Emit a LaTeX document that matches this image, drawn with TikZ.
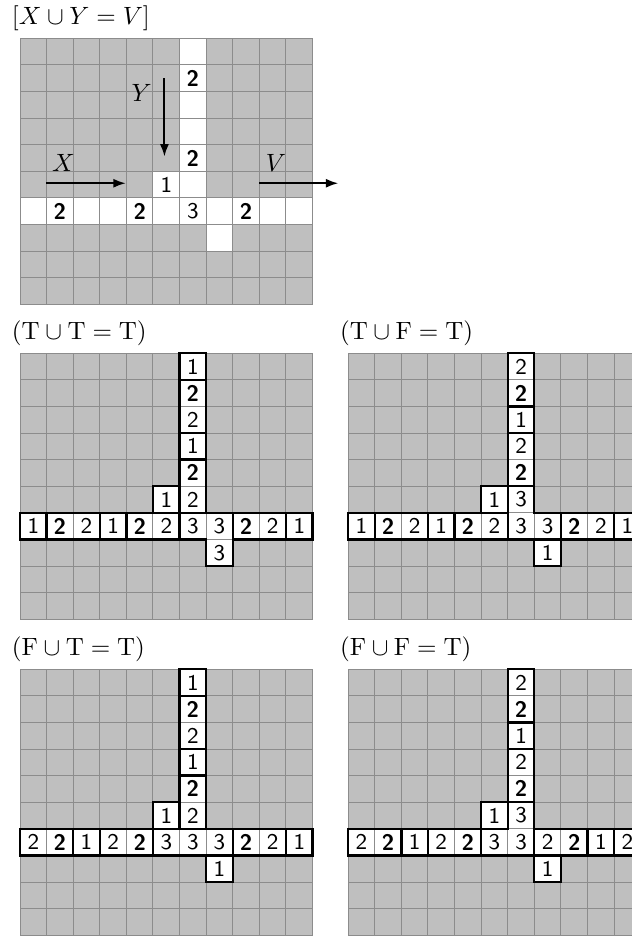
\documentclass[tikz,border=0pt]{standalone}
\usepackage{amsmath}
\usepackage{amssymb}
\usepackage{tikz}
\usetikzlibrary{arrows.meta}

\newcommand{\clue}[1]{\textbf{#1}}
\newcommand{\board}{%
  \fill[boardfill] (0,0) rectangle (11,-10);
  \foreach \c in {0,...,11} \draw[gridline] (\c,0) -- (\c,-10);
  \foreach \r in {0,...,10} \draw[gridline] (0,-\r) -- (11,-\r);
  \foreach \r in {0,...,5} \draw[gridline,fill=white] (6,-\r) rectangle ++(1,-1);
  \foreach \c in {0,...,10} \draw[gridline,fill=white] (\c,-6) rectangle ++(1,-1);
  \draw[gridline,fill=white] (5,-5) rectangle ++(1,-1);
  \draw[gridline,fill=white] (7,-7) rectangle ++(1,-1);
}
\newcommand{\fillnums}[4]{%
  \foreach \n [count=\r from 0] in {#1} \node[num] (v\r) at (6.5,-\r-0.5) {\n};
  \foreach \n [count=\c from 0] in {#2} \node[num] (h\c) at (\c+0.5,-6.5) {\n};
  \node[num] (a) at (5.5,-5.5) {#3};
  \node[num] (b) at (7.5,-7.5) {#4};
}

\begin{document}
\begin{tikzpicture}[x=10.64pt,y=10.64pt,
    boardfill/.style={fill=black!25},
    gridline/.style={draw=black!45,line width=0.4pt},
    wall/.style={draw=black,line width=0.9pt},
    num/.style={font=\sffamily\small,inner sep=0pt},
    title/.style={anchor=west,inner sep=0pt},
    flow/.style={-{Latex[length=5pt,width=3.6pt]},line width=0.8pt}]
\useasboundingbox (0,0) rectangle (23.76,-35.19);
\clip (0,0) rectangle (23.76,-35.19);

\begin{scope}[shift={(0.752,-1.44)},name prefix=or-]
  \node[title] (label) at (-0.32,0.74) {$[X\cup Y=V]$};
  \board
  \node[num] (v1) at (6.5,-1.5) {\clue{2}};
  \node[num] (v4) at (6.5,-4.5) {\clue{2}};
  \node[num] (a) at (5.5,-5.5) {1};
  \node[num] (h1) at (1.5,-6.5) {\clue{2}};
  \node[num] (h4) at (4.5,-6.5) {\clue{2}};
  \node[num] (h6) at (6.5,-6.5) {3};
  \node[num] (h8) at (8.5,-6.5) {\clue{2}};
  \coordinate (ytop) at (5.43,-1.5);
  \coordinate (ybot) at (5.43,-4.45);
  \coordinate (xin) at (0.98,-5.45);
  \coordinate (xout) at (3.98,-5.45);
  \coordinate (vin) at (9.0,-5.45);
  \coordinate (vout) at (11.97,-5.45);
  \draw[flow] (ytop) -- (ybot);
  \draw[flow] (xin) -- (xout);
  \draw[flow] (vin) -- (vout);
  \node (Y) at (4.57,-2.07) {$Y$};
  \node (X) at (1.63,-4.7) {$X$};
  \node (V) at (9.62,-4.7) {$V$};
\end{scope}

\begin{scope}[shift={(0.752,-13.28)},name prefix=tt-]
  \node[title] (label) at (-0.32,0.74) {$(\mathrm{T}\cup\mathrm{T}=\mathrm{T})$};
  \board
  \fillnums{1,\clue{2},2,1,\clue{2},2}{1,\clue{2},2,1,\clue{2},2,3,3,\clue{2},2,1}{1}{3}
  \draw[wall] (6,0) rectangle (7,-1);
  \draw[wall] (6,-1) rectangle (7,-3);
  \draw[wall] (6,-3) rectangle (7,-4);
  \draw[wall] (6,-4) rectangle (7,-6);
  \draw[wall] (5,-5) rectangle (6,-6);
  \draw[wall] (0,-6) rectangle (1,-7);
  \draw[wall] (1,-6) rectangle (3,-7);
  \draw[wall] (3,-6) rectangle (4,-7);
  \draw[wall] (4,-6) rectangle (6,-7);
  \draw[wall] (6,-6) -- (8,-6) -- (8,-8) -- (7,-8) -- (7,-7) -- (6,-7) -- cycle;
  \draw[wall] (8,-6) rectangle (10,-7);
  \draw[wall] (10,-6) rectangle (11,-7);
\end{scope}

\begin{scope}[shift={(13.09,-13.28)},name prefix=tf-]
  \node[title] (label) at (-0.32,0.74) {$(\mathrm{T}\cup\mathrm{F}=\mathrm{T})$};
  \board
  \fillnums{2,\clue{2},1,2,\clue{2},3}{1,\clue{2},2,1,\clue{2},2,3,3,\clue{2},2,1}{1}{1}
  \draw[wall] (6,0) rectangle (7,-2);
  \draw[wall] (6,-2) rectangle (7,-3);
  \draw[wall] (6,-3) rectangle (7,-5);
  \draw[wall] (6,-5) -- (7,-5) -- (7,-6) -- (8,-6) -- (8,-7) -- (6,-7) -- cycle;
  \draw[wall] (5,-5) rectangle (6,-6);
  \draw[wall] (0,-6) rectangle (1,-7);
  \draw[wall] (1,-6) rectangle (3,-7);
  \draw[wall] (3,-6) rectangle (4,-7);
  \draw[wall] (4,-6) rectangle (6,-7);
  \draw[wall] (8,-6) rectangle (10,-7);
  \draw[wall] (10,-6) rectangle (11,-7);
  \draw[wall] (7,-7) rectangle (8,-8);
\end{scope}

\begin{scope}[shift={(0.752,-25.16)},name prefix=ft-]
  \node[title] (label) at (-0.32,0.74) {$(\mathrm{F}\cup\mathrm{T}=\mathrm{T})$};
  \board
  \fillnums{1,\clue{2},2,1,\clue{2},2}{2,\clue{2},1,2,\clue{2},3,3,3,\clue{2},2,1}{1}{1}
  \draw[wall] (6,0) rectangle (7,-1);
  \draw[wall] (6,-1) rectangle (7,-3);
  \draw[wall] (6,-3) rectangle (7,-4);
  \draw[wall] (6,-4) rectangle (7,-6);
  \draw[wall] (5,-5) rectangle (6,-6);
  \draw[wall] (0,-6) rectangle (2,-7);
  \draw[wall] (2,-6) rectangle (3,-7);
  \draw[wall] (3,-6) rectangle (5,-7);
  \draw[wall] (5,-6) rectangle (8,-7);
  \draw[wall] (8,-6) rectangle (10,-7);
  \draw[wall] (10,-6) rectangle (11,-7);
  \draw[wall] (7,-7) rectangle (8,-8);
\end{scope}

\begin{scope}[shift={(13.09,-25.16)},name prefix=ff-]
  \node[title] (label) at (-0.32,0.74) {$(\mathrm{F}\cup\mathrm{F}=\mathrm{T})$};
  \board
  \fillnums{2,\clue{2},1,2,\clue{2},3}{2,\clue{2},1,2,\clue{2},3,3,2,\clue{2},1,2}{1}{1}
  \draw[wall] (6,0) rectangle (7,-2);
  \draw[wall] (6,-2) rectangle (7,-3);
  \draw[wall] (6,-3) rectangle (7,-5);
  \draw[wall] (6,-5) -- (7,-5) -- (7,-7) -- (5,-7) -- (5,-6) -- (6,-6) -- cycle;
  \draw[wall] (5,-5) rectangle (6,-6);
  \draw[wall] (0,-6) rectangle (2,-7);
  \draw[wall] (2,-6) rectangle (3,-7);
  \draw[wall] (3,-6) rectangle (5,-7);
  \draw[wall] (7,-6) rectangle (9,-7);
  \draw[wall] (9,-6) rectangle (10,-7);
  \draw[wall] (10,-6) rectangle (11,-7);
  \draw[wall] (7,-7) rectangle (8,-8);
\end{scope}
\end{tikzpicture}
\end{document}
